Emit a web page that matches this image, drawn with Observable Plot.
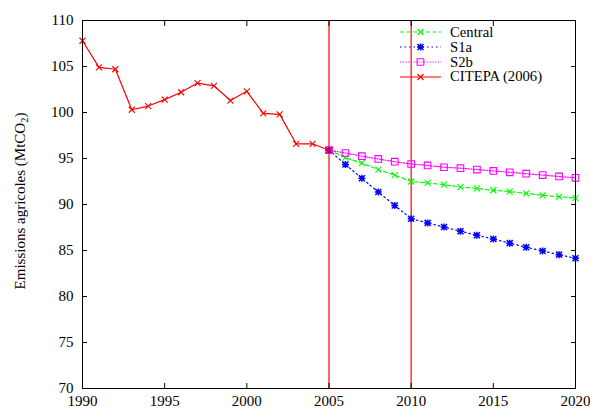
<!DOCTYPE html>
<html>
<head>
<meta charset="utf-8">
<script src="https://cdn.jsdelivr.net/npm/d3@7"></script>
<script src="https://cdn.jsdelivr.net/npm/@observablehq/plot@0.6"></script>
<style>
  body { margin: 0; background: #fff; }
  #chart { position: relative; width: 590px; height: 408px; font-family: "Liberation Serif", Tinos, "Times New Roman", "DejaVu Serif", serif; }
  #chart svg text { font-family: "Liberation Serif", Tinos, "Times New Roman", "DejaVu Serif", serif; }
  #legend { position: absolute; left: 398px; top: 25px; font-size: 14.7px; line-height: 1; }
  #legend .row { height: 14.8px; display: flex; align-items: center; }
  #legend svg { width: 46px; height: 14px; margin-right: 6px; }
</style>
</head>
<body>
<div id="chart"></div>
<script>
// Historical inventory (CITEPA 2006)
const histYears = [1990,1991,1992,1993,1994,1995,1996,1997,1998,1999,2000,2001,2002,2003,2004,2005];
const histValues = [107.8,104.9,104.7,100.3,100.7,101.4,102.2,103.2,102.9,101.3,102.3,99.9,99.8,96.6,96.6,95.9];

// Scenario projections
const scenYears = [2005,2006,2007,2008,2009,2010,2011,2012,2013,2014,2015,2016,2017,2018,2019,2020];
const centralValues = [95.9,95.1,94.5,93.8,93.2,92.5,92.35,92.15,91.9,91.75,91.55,91.4,91.2,91.0,90.85,90.7];
const s1aValues = [95.9,94.35,92.85,91.35,89.9,88.45,88.0,87.55,87.1,86.65,86.25,85.8,85.35,84.95,84.55,84.15];
const s2bValues = [95.9,95.6,95.25,94.95,94.65,94.4,94.25,94.05,93.95,93.8,93.65,93.5,93.35,93.2,93.05,92.9];

const seriesNames = ["Central", "S1a", "S2b", "CITEPA (2006)"];
const seriesColors = ["#00ff00", "#0000ff", "#ff00ff", "#ff0000"];
const seriesDash = ["4,2.5", "1.5,3", "1.2,1.5", null];

const markerYears = [2005, 2010];
const xTicks = [1990,1995,2000,2005,2010,2015,2020];
const yTicks = [70,75,80,85,90,95,100,105,110];

// gnuplot-like point symbols
const symCross = {draw(c){ const h=3; c.moveTo(-h,-h); c.lineTo(h,h); c.moveTo(h,-h); c.lineTo(-h,h); }};
const symStar = {draw(c){ const h=3; c.moveTo(-h,-h); c.lineTo(h,h); c.moveTo(h,-h); c.lineTo(-h,h); c.moveTo(0,-h-0.5); c.lineTo(0,h+0.5); c.moveTo(-h-0.5,0); c.lineTo(h+0.5,0); }};
const symSquare = {draw(c){ const h=3.3; c.moveTo(-h,-h); c.lineTo(h,-h); c.lineTo(h,h); c.lineTo(-h,h); c.closePath(); }};
const seriesSymbols = [symCross, symStar, symSquare, symCross];

const toRows = (xs, vs) => xs.map((x,i) => ({year: x, value: vs[i]}));
const data = [toRows(scenYears, centralValues), toRows(scenYears, s1aValues), toRows(scenYears, s2bValues), toRows(histYears, histValues)];

const marks = [
  Plot.ruleX(markerYears, {stroke: "#ff0000", strokeWidth: 1.2})
];
data.forEach((rows, i) => {
  marks.push(Plot.line(rows, {x: "year", y: "value", stroke: seriesColors[i], strokeWidth: 1.2, strokeDasharray: seriesDash[i]}));
  marks.push(Plot.dot(rows, {x: "year", y: "value", stroke: seriesColors[i], symbol: seriesSymbols[i], r: 3, strokeWidth: i === 1 ? 1.5 : 1.1, fill: "none"}));
});
marks.push(
  Plot.frame({stroke: "#000", strokeWidth: 1}),
  Plot.axisX(xTicks, {anchor: "bottom", tickSize: 0, tickPadding: 6.5, tickFormat: "d", label: null, fontSize: 15}),
  Plot.axisX(xTicks, {anchor: "bottom", tickSize: -5, tickFormat: () => "", label: null}),
  Plot.axisX(xTicks, {anchor: "top", tickSize: -5, tickFormat: () => "", label: null}),
  Plot.axisY(yTicks, {anchor: "left", tickSize: 0, tickPadding: 9, label: null, fontSize: 15}),
  Plot.axisY(yTicks, {anchor: "left", tickSize: -5, tickFormat: () => "", label: null}),
  Plot.axisY(yTicks, {anchor: "right", tickSize: -5, tickFormat: () => "", label: null})
);

const plot = Plot.plot({
  width: 590,
  height: 408,
  marginLeft: 82,
  marginRight: 15,
  marginTop: 20,
  marginBottom: 20,
  style: {fontFamily: "'Liberation Serif', Tinos, 'Times New Roman', 'DejaVu Serif', serif", fontSize: "15px", color: "#000", background: "#fff"},
  x: {domain: [1990, 2020]},
  y: {domain: [70, 110]},
  marks
});
const chart = document.getElementById("chart");
chart.appendChild(plot);

// y-axis title with subscript
const svg = d3.select(plot);
const t = svg.append("text")
  .attr("transform", "translate(25,201) rotate(-90)")
  .attr("text-anchor", "middle")
  .attr("font-size", 15)
  .attr("fill", "#000");
t.append("tspan").text("Emissions agricoles (MtCO");
t.append("tspan").attr("font-size", 10.5).attr("dy", 3).text("2");
t.append("tspan").attr("dy", -3).text(")");

// legend (inside plot area, top right)
const legend = document.createElement("div");
legend.id = "legend";
seriesNames.forEach((name, i) => {
  const row = document.createElement("div");
  row.className = "row";
  const s = d3.create("svg");
  s.append("line").attr("x1", 2).attr("x2", 43).attr("y1", 7).attr("y2", 7)
    .attr("stroke", seriesColors[i]).attr("stroke-width", 1.2)
    .attr("stroke-dasharray", seriesDash[i]);
  const p = d3.path(); seriesSymbols[i].draw(p, 0);
  s.append("path").attr("d", p.toString()).attr("transform", "translate(22.5,7)")
    .attr("stroke", seriesColors[i]).attr("fill", "none").attr("stroke-width", i === 1 ? 1.5 : 1.1);
  row.appendChild(s.node());
  const lab = document.createElement("span");
  lab.textContent = name;
  row.appendChild(lab);
  legend.appendChild(row);
});
chart.appendChild(legend);
</script>
</body>
</html>
